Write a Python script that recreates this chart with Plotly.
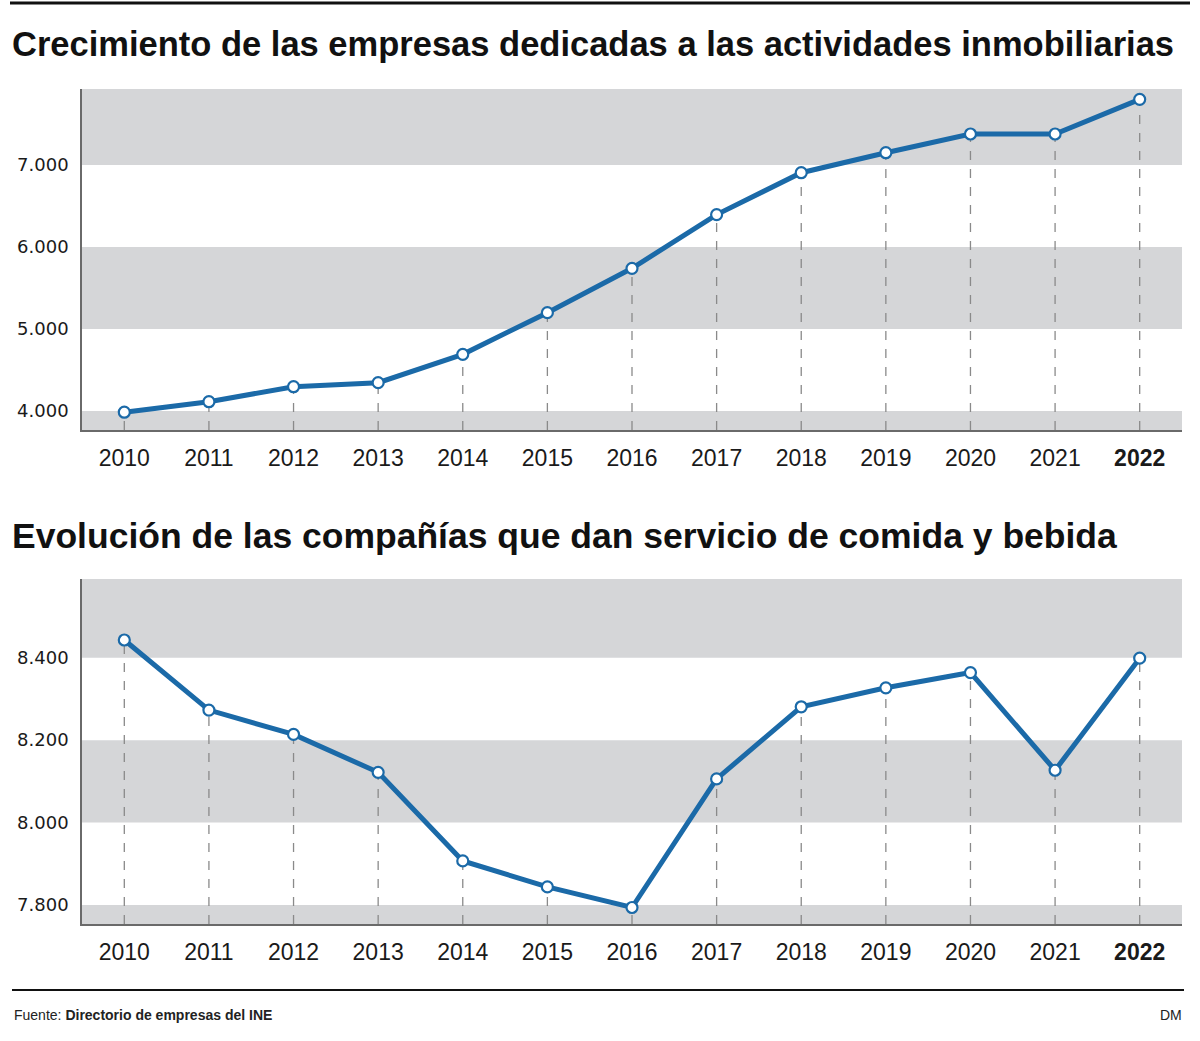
import plotly.graph_objects as go

# ---- data ----
years = [2010, 2011, 2012, 2013, 2014, 2015, 2016, 2017, 2018, 2019, 2020, 2021, 2022]
year_labels = ["2010", "2011", "2012", "2013", "2014", "2015", "2016", "2017",
               "2018", "2019", "2020", "2021", "<b>2022</b>"]
inmobiliarias = [3985, 4113, 4296, 4345, 4691, 5199, 5740, 6395, 6906, 7150, 7378, 7378, 7801]
comida_bebida = [8443, 8273, 8214, 8122, 7907, 7844, 7794, 8106, 8281, 8327, 8364, 8127, 8399]
top_ticks = [4000, 5000, 6000, 7000]
bot_ticks = [7800, 8000, 8200, 8400]
top_range = [3768, 7927]
bot_range = [7754, 8591]
top_bands = [(3768, 4000), (5000, 6000), (7000, 7927)]
bot_bands = [(7754, 7800), (8000, 8200), (8400, 8591)]

title1 = "Crecimiento de las empresas dedicadas a las actividades inmobiliarias"
title2 = "Evolución de las compañías que dan servicio de comida y bebida"
source = "Fuente: <b>Directorio de empresas del INE</b>"

W, H = 1200, 1041
LINE = "#1b6aa8"
BAND = "#d5d6d8"
SANS = "Liberation Sans, Arial, sans-serif"


def py(px):
    return 1 - px / H


fig = go.Figure()


def add_series(vals, xa, ya, ymin):
    # dashed drop lines
    dx, dy = [], []
    for x, v in zip(years, vals):
        dx += [x, x, None]
        dy += [ymin, v, None]
    fig.add_trace(go.Scatter(x=dx, y=dy, xaxis=xa, yaxis=ya, mode="lines",
                             line=dict(color="#8a8a8a", width=1.3, dash="dash"),
                             hoverinfo="skip", showlegend=False))
    fig.add_trace(go.Scatter(x=years, y=vals, xaxis=xa, yaxis=ya, mode="lines+markers",
                             line=dict(color=LINE, width=5),
                             marker=dict(size=11, color="white",
                                         line=dict(color=LINE, width=2.2)),
                             showlegend=False))


add_series(inmobiliarias, "x", "y", top_range[0])
add_series(comida_bebida, "x2", "y2", bot_range[0])

shapes = []
for a, b in top_bands:
    shapes.append(dict(type="rect", xref="x domain", yref="y", x0=0, x1=1, y0=a, y1=b,
                       fillcolor=BAND, line=dict(width=0), layer="below"))
for a, b in bot_bands:
    shapes.append(dict(type="rect", xref="x2 domain", yref="y2", x0=0, x1=1, y0=a, y1=b,
                       fillcolor=BAND, line=dict(width=0), layer="below"))
# rules
shapes.append(dict(type="line", xref="paper", yref="paper", x0=10 / W, x1=1190 / W,
                   y0=py(3), y1=py(3), line=dict(color="#111", width=3)))
shapes.append(dict(type="line", xref="paper", yref="paper", x0=12 / W, x1=1184 / W,
                   y0=py(990), y1=py(990), line=dict(color="#111", width=2)))

xdom = [82 / W, 1182 / W]
xaxis_common = dict(range=[2009.5, 2022.5], tickvals=years, ticktext=year_labels,
                    showgrid=False, zeroline=False, showline=True, linecolor="#6a6a6a",
                    linewidth=2, ticks="", ticklabelstandoff=6,
                    tickfont=dict(family=SANS, size=23, color="#1a1a1a"), domain=xdom)
yaxis_common = dict(showgrid=False, zeroline=False, showline=True, linecolor="#6a6a6a",
                    linewidth=1.5, ticks="", tickformat=",d", ticklabelstandoff=8,
                    tickfont=dict(family="DejaVu Sans, sans-serif", size=18, color="#1a1a1a"))

fig.update_layout(
    width=W, height=H, margin=dict(l=0, r=0, t=0, b=0),
    paper_bgcolor="white", plot_bgcolor="white", separators=",.",
    xaxis=dict(**xaxis_common, anchor="y"),
    yaxis=dict(**yaxis_common, range=top_range, tickvals=top_ticks,
               domain=[py(430), py(89)], anchor="x"),
    xaxis2=dict(**xaxis_common, anchor="y2"),
    yaxis2=dict(**yaxis_common, range=bot_range, tickvals=bot_ticks,
                domain=[py(924), py(579)], anchor="x2"),
    shapes=shapes,
    annotations=[
        dict(text="<b>" + title1 + "</b>", xref="paper", yref="paper", x=10 / W, y=py(44),
             xanchor="left", yanchor="middle", showarrow=False,
             font=dict(family=SANS, size=34.5, color="#111")),
        dict(text="<b>" + title2 + "</b>", xref="paper", yref="paper", x=10 / W, y=py(536),
             xanchor="left", yanchor="middle", showarrow=False,
             font=dict(family=SANS, size=35.5, color="#111")),
        dict(text=source, xref="paper", yref="paper", x=12 / W, y=py(1015),
             xanchor="left", yanchor="middle", showarrow=False,
             font=dict(family=SANS, size=14, color="#222")),
        dict(text="DM", xref="paper", yref="paper", x=1184 / W, y=py(1015),
             xanchor="right", yanchor="middle", showarrow=False,
             font=dict(family=SANS, size=14, color="#222")),
    ],
)

fig.write_html("out.html", config={"displayModeBar": False},
               post_script="document.body.style.margin='0px';")
